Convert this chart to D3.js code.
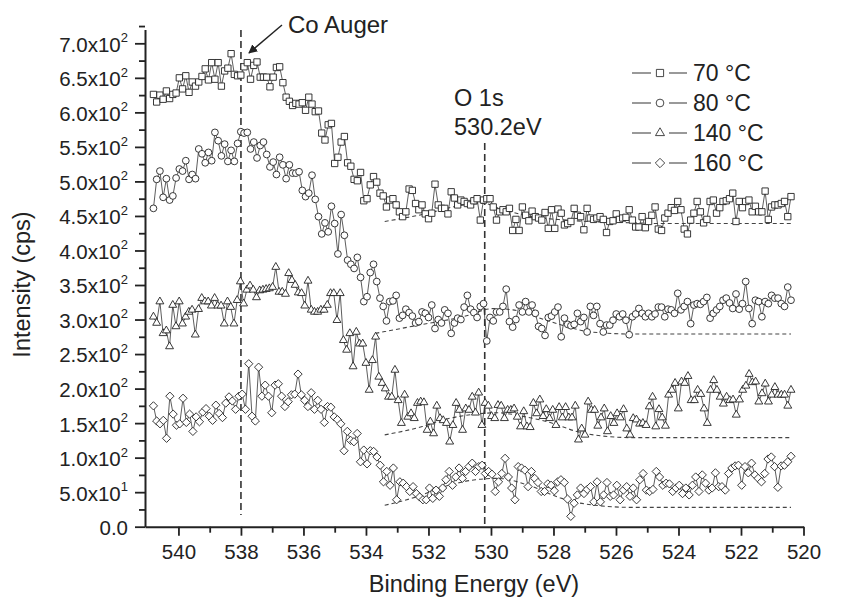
<!DOCTYPE html>
<html>
<head>
<meta charset="utf-8">
<script src="https://cdn.jsdelivr.net/npm/d3@7"></script>
<style>
  body { margin: 0; background: #fff; }
  text { font-family: "Liberation Sans", Arial, sans-serif; fill: #222; }
</style>
</head>
<body>
<svg id="chart" width="842" height="603"></svg>
<script>
// scan limits (binding energy, eV) - every series is sampled evenly between these
const scanStart = 540.8;
const scanEnd = 520.4;

const xTicks = [540, 538, 536, 534, 532, 530, 528, 526, 524, 522, 520];
const yTicks = [0, 50, 100, 150, 200, 250, 300, 350, 400, 450, 500, 550, 600, 650, 700];

const seriesNames = ["70 \u00b0C", "80 \u00b0C", "140 \u00b0C", "160 \u00b0C"];

// intensities (cps), high BE -> low BE
const sq70 = [626,615,625,619,631,620,626,628,650,634,
  653,629,644,638,644,652,663,647,672,648,
  672,638,660,664,685,655,653,654,666,672,
  648,668,673,651,651,651,637,651,665,666,
  643,622,616,610,613,612,614,603,622,612,
  601,602,570,560,582,584,526,535,557,565,
  527,522,503,501,513,472,475,495,507,499,
  483,479,463,473,475,466,456,449,456,489,
  487,468,459,466,453,446,454,496,466,461,
  461,453,485,476,466,473,471,468,466,
  472,475,444,473,475,475,463,444,456,459,
  456,461,429,445,429,463,451,443,457,449,
  447,444,455,432,459,432,460,454,437,439,
  442,461,451,449,430,461,447,445,447,449,
  445,426,442,443,453,445,447,448,459,444,
  434,434,449,433,442,451,463,431,429,447,
  454,462,458,471,459,431,424,444,454,471,
  456,440,445,471,473,454,462,471,472,475,
  483,442,471,462,471,473,456,464,456,456,
  486,445,463,466,466,468,471,449,478];

const ci80 = [461,503,515,477,504,473,479,505,518,515,
  530,503,510,504,547,540,527,542,530,571,
  559,537,554,529,545,529,555,572,570,571,
  547,557,534,552,557,539,521,528,510,535,
  524,504,524,512,512,514,487,478,483,509,
  474,449,424,440,427,464,439,395,452,422,
  386,380,374,390,
  361,326,333,368,380,355,331,319,298,326,
  327,335,302,306,315,310,305,295,297,311,
  309,303,321,287,300,295,314,309,280,295,
  302,300,318,335,315,310,303,319,323,269,
  303,298,311,311,319,344,297,289,300,321,
  311,326,311,321,309,290,287,277,303,305,
  311,318,275,302,293,291,293,309,297,303,
  282,319,306,319,
  294,282,292,292,299,308,304,308,299,278,
  304,308,316,309,304,309,304,308,318,318,
  304,315,314,309,338,314,319,326,294,321,
  323,322,326,332,302,309,314,319,328,331,
  324,316,337,315,323,355,316,294,328,326,
  304,326,323,335,331,331,323,319,347,328];

const tr140 = [304,295,326,280,284,261,321,290,326,294,
  304,311,314,278,315,331,326,326,320,331,
  320,320,294,326,318,294,328,355,323,343,
  349,343,332,342,343,344,345,347,376,340,
  340,337,367,357,350,339,338,320,356,314,
  311,311,314,314,321,338,338,299,338,270,
  256,280,232,282,265,265,237,198,241,275,
  217,208,200,188,188,227,183,150,191,159,
  164,157,179,181,180,140,152,135,175,157,
  154,150,123,147,179,169,140,171,169,188,
  165,194,147,179,175,160,157,176,175,157,
  169,169,171,159,145,167,145,144,179,164,
  184,160,170,157,169,147,173,158,173,158,
  158,175,126,142,133,181,169,169,146,158,
  171,138,160,150,164,158,170,142,133,157,
  155,149,150,147,174,188,145,170,158,146,
  191,198,208,171,210,208,218,183,183,198,
  192,171,150,198,212,198,188,178,188,183,
  184,162,184,198,204,221,209,210,181,193,
  207,181,191,202,191,191,191,175,198];

const di160 = [175,153,149,154,128,189,163,147,149,186,
  151,163,138,159,152,166,171,160,154,176,
  164,158,179,188,182,170,189,192,170,236,
  160,153,231,189,205,189,165,205,207,189,
  174,181,191,192,221,191,183,174,194,170,
  183,170,151,174,173,159,155,149,110,138,
  125,123,135,94,111,91,110,109,101,89,
  65,80,60,85,39,65,63,58,51,58,
  48,43,39,39,56,41,53,44,56,68,
  80,60,72,85,70,80,87,92,
  80,87,89,77,80,76,51,65,77,99,
  72,56,39,87,85,82,58,80,70,64,
  51,51,62,60,52,65,68,64,40,15,
  34,46,56,48,54,58,36,65,36,46,
  64,44,46,60,39,53,58,44,56,39,
  68,77,53,51,54,80,72,60,63,62,
  51,56,60,48,56,46,60,72,51,75,
  63,53,56,78,58,58,53,77,85,88,
  89,60,87,78,92,75,70,65,77,98,
  101,87,57,88,89,94,102];

// fitted backgrounds (dashed)
const base70E = [533.4, 532.0, 531.0, 530.2, 529.8, 528.7, 527.6, 525.4, 524.5, 520.4];
const base70V = [442, 454, 465, 468, 462, 449, 444, 440, 439, 439];
const base80E = [533.7, 532.3, 530.9, 529.9, 529.3, 528.1, 526.8, 525.5, 520.4];
const base80V = [280, 292, 304, 316, 314, 297, 282, 279, 279];
const base140E = [533.4, 532.2, 531.5, 530.5, 529.8, 529.0, 528.2, 527.0, 525.5, 520.4];
const base140V = [133, 145, 155, 163, 165, 160, 152, 135, 129, 129];
const base160E = [533.4, 532.4, 531.5, 530.5, 529.8, 528.8, 527.8, 527.0, 525.5, 520.4];
const base160V = [31, 43, 58, 68, 70, 60, 42, 33, 28, 28];

const coAuger = 538.0;
const o1s = 530.2;

const svg = d3.select("#chart");

const x = d3.scaleLinear().domain([541.07, 520]).range([145, 803.5]);
const y = d3.scaleLinear().domain([0, 720]).range([526.7, 29.5]);

// square-ish diamond (d3.symbolDiamond is too narrow)
const symbolRhomb = {
  draw(context, size) {
    const r = Math.sqrt(size / 2);
    context.moveTo(0, -r);
    context.lineTo(r, 0);
    context.lineTo(0, r);
    context.lineTo(-r, 0);
    context.closePath();
  }
};

const series = [
  {name: seriesNames[0], values: sq70, symbol: d3.symbolSquare, size: 40, baseE: base70E, baseV: base70V},
  {name: seriesNames[1], values: ci80, symbol: d3.symbolCircle, size: 36, baseE: base80E, baseV: base80V},
  {name: seriesNames[2], values: tr140, symbol: d3.symbolTriangle, size: 27, baseE: base140E, baseV: base140V},
  {name: seriesNames[3], values: di160, symbol: symbolRhomb, size: 34, baseE: base160E, baseV: base160V}
];

// axes
const axisColor = "#222";

const yMajor = svg.append("g")
    .attr("transform", "translate(145,0)")
    .call(d3.axisLeft(y).tickValues(yTicks).tickSize(10).tickSizeOuter(0).tickFormat(""));
const yMinor = svg.append("g")
    .attr("transform", "translate(145,0)")
    .call(d3.axisLeft(y).tickValues(yTicks.map(d => d + 25)).tickSize(6).tickSizeOuter(0).tickFormat(""));
yMinor.select(".domain").remove();

const xMajor = svg.append("g")
    .attr("transform", "translate(0,526.7)")
    .call(d3.axisBottom(x).tickValues(xTicks).tickSize(9).tickSizeOuter(0).tickPadding(8.5).tickFormat(d3.format("d")));
const xMinor = svg.append("g")
    .attr("transform", "translate(0,526.7)")
    .call(d3.axisBottom(x).tickValues(xTicks.slice(0, -1).map(d => d - 1)).tickSize(6).tickSizeOuter(0).tickFormat(""));
xMinor.select(".domain").remove();

svg.selectAll(".domain").attr("stroke", axisColor).attr("stroke-width", 2);
svg.selectAll(".tick line").attr("stroke", axisColor).attr("stroke-width", 1.8);
xMajor.selectAll("text")
    .attr("font-size", 20.5)
    .attr("font-family", "Liberation Sans, Arial, sans-serif")
    .attr("fill", "#222");

// y labels like 6.5x10^2
const yLabels = svg.append("g");
yTicks.forEach(v => {
  const t = yLabels.append("text")
      .attr("x", 128)
      .attr("y", y(v) + 8.4)
      .attr("text-anchor", "end")
      .attr("font-size", 20.5);
  if (v === 0) {
    t.text("0.0");
  } else {
    const exp = v >= 100 ? 2 : 1;
    t.append("tspan").text((v / Math.pow(10, exp)).toFixed(1) + "x10");
    t.append("tspan").attr("font-size", 13).attr("dy", -9.5).text(exp);
  }
});

// axis titles
svg.append("text")
    .attr("x", 474)
    .attr("y", 592)
    .attr("text-anchor", "middle")
    .attr("font-size", 23.5)
    .text("Binding Energy (eV)");

svg.append("text")
    .attr("transform", "translate(29.5,284.5) rotate(-90)")
    .attr("text-anchor", "middle")
    .attr("font-size", 23.5)
    .text("Intensity (cps)");

// reference lines
svg.append("line")
    .attr("x1", x(coAuger)).attr("x2", x(coAuger))
    .attr("y1", 30).attr("y2", 515)
    .attr("stroke", "#333").attr("stroke-width", 1.6)
    .attr("stroke-dasharray", "7,4");
svg.append("line")
    .attr("x1", x(o1s)).attr("x2", x(o1s))
    .attr("y1", 143).attr("y2", 526)
    .attr("stroke", "#333").attr("stroke-width", 1.6)
    .attr("stroke-dasharray", "7,4");

// backgrounds
const baseLine = d3.line().curve(d3.curveMonotoneX);
series.forEach(s => {
  svg.append("path")
      .attr("d", baseLine(s.baseE.map((e, i) => [x(e), y(s.baseV[i])])))
      .attr("fill", "none")
      .attr("stroke", "#444")
      .attr("stroke-width", 1.1)
      .attr("stroke-dasharray", "4,3");
});

// spectra
series.forEach(s => {
  const eAt = d3.scaleLinear().domain([0, s.values.length - 1]).range([scanStart, scanEnd]);
  const pts = s.values.map((v, i) => [x(eAt(i)), y(v)]);
  const g = svg.append("g");
  g.append("path")
      .attr("d", d3.line()(pts))
      .attr("fill", "none")
      .attr("stroke", "#333")
      .attr("stroke-width", 0.8);
  g.selectAll("path.mark")
    .data(pts)
    .join("path")
      .attr("class", "mark")
      .attr("transform", d => `translate(${d[0]},${d[1]})`)
      .attr("d", d3.symbol().type(s.symbol).size(s.size))
      .attr("fill", "#fff")
      .attr("stroke", "#222")
      .attr("stroke-width", 0.9);
});

// annotations
svg.append("defs").append("marker")
    .attr("id", "arrowhead")
    .attr("viewBox", "0 0 10 10")
    .attr("refX", 9).attr("refY", 5)
    .attr("markerWidth", 9).attr("markerHeight", 9)
    .attr("markerUnits", "userSpaceOnUse")
    .attr("orient", "auto")
  .append("path")
    .attr("d", "M0,0L10,5L0,10z")
    .attr("fill", "#222");

svg.append("line")
    .attr("x1", 282).attr("y1", 25)
    .attr("x2", 249).attr("y2", 53)
    .attr("stroke", "#222").attr("stroke-width", 1.4)
    .attr("marker-end", "url(#arrowhead)");

svg.append("text")
    .attr("x", 288).attr("y", 33)
    .attr("font-size", 24)
    .text("Co Auger");

svg.append("text")
    .attr("x", 454).attr("y", 106)
    .attr("font-size", 23.5)
    .text("O 1s");
svg.append("text")
    .attr("x", 454).attr("y", 135)
    .attr("font-size", 23.5)
    .text("530.2eV");

// legend
const legend = svg.append("g").attr("transform", "translate(632,73)");
series.forEach((s, i) => {
  const row = legend.append("g").attr("transform", `translate(0,${i * 30})`);
  row.append("line").attr("x1", 0).attr("x2", 19).attr("stroke", "#555").attr("stroke-width", 1.2);
  row.append("line").attr("x1", 37).attr("x2", 55).attr("stroke", "#555").attr("stroke-width", 1.2);
  row.append("path")
      .attr("transform", "translate(28,0)")
      .attr("d", d3.symbol().type(s.symbol).size(s.size * 1.3))
      .attr("fill", "#fff")
      .attr("stroke", "#333")
      .attr("stroke-width", 0.9);
  row.append("text")
      .attr("x", 61)
      .attr("y", 8.3)
      .attr("font-size", 23)
      .text(s.name);
});
</script>
</body>
</html>
